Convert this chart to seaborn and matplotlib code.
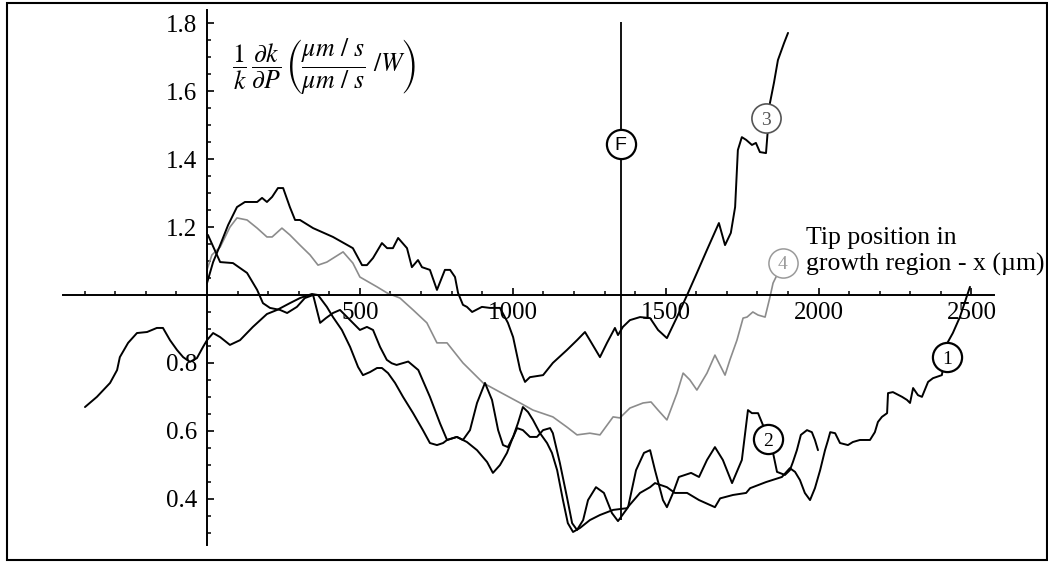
import matplotlib
matplotlib.use("Agg")
import matplotlib.pyplot as plt
import seaborn as sns
from matplotlib.patches import Rectangle
from matplotlib.ticker import FixedLocator

# ---- traces: relative sensitivity vs tip position (x in um) ----
c1_x = [-399, -360, -317, -294, -285, -258, -229, -196, -164, -144,
        -121, -98, -78, -56, -33, -13, 0, 20, 43, 75,
        108, 150, 196, 229, 271, 304, 343, 363, 392, 412,
        441, 468, 494, 510, 533, 556, 572, 592, 615, 641,
        674, 706, 729, 752, 772, 785, 817, 837, 860, 883,
        909, 932, 952, 968, 984, 1001, 1017, 1033, 1050, 1066,
        1089, 1112, 1128, 1145, 1164, 1180, 1197, 1220, 1252, 1285,
        1328, 1373, 1416, 1449, 1465, 1504, 1530, 1570, 1609, 1661,
        1678, 1720, 1763, 1776, 1828, 1880, 1906, 1923, 1939, 1955,
        1972, 1988, 2005, 2021, 2031, 2038, 2054, 2070, 2096, 2112,
        2135, 2168, 2184, 2194, 2207, 2224, 2227, 2243, 2273, 2289,
        2299, 2309, 2325, 2338, 2358, 2374, 2403, 2423, 2439, 2462,
        2495]
c1_y = [0.670, 0.700, 0.741, 0.779, 0.817, 0.859, 0.888, 0.891, 0.903, 0.903,
        0.867, 0.838, 0.817, 0.803, 0.814, 0.847, 0.867, 0.888, 0.876, 0.853,
        0.867, 0.906, 0.944, 0.956, 0.976, 0.991, 1.003, 1.000, 0.965, 0.935,
        0.897, 0.847, 0.788, 0.764, 0.773, 0.785, 0.785, 0.770, 0.741, 0.700,
        0.652, 0.602, 0.564, 0.558, 0.564, 0.573, 0.582, 0.573, 0.602, 0.682,
        0.741, 0.691, 0.602, 0.558, 0.552, 0.582, 0.623, 0.670, 0.655, 0.632,
        0.593, 0.564, 0.535, 0.484, 0.396, 0.328, 0.302, 0.314, 0.337, 0.352,
        0.367, 0.372, 0.417, 0.434, 0.446, 0.434, 0.417, 0.417, 0.396, 0.375,
        0.401, 0.411, 0.417, 0.431, 0.449, 0.464, 0.490, 0.479, 0.455, 0.417,
        0.396, 0.431, 0.484, 0.543, 0.573, 0.596, 0.593, 0.564, 0.558, 0.567,
        0.573, 0.573, 0.596, 0.626, 0.641, 0.652, 0.711, 0.714, 0.700, 0.691,
        0.682, 0.726, 0.705, 0.700, 0.744, 0.755, 0.764, 0.862, 0.888, 0.935,
        1.024]

c2_x = [3, 43, 85, 131, 164, 183, 206, 239, 262, 294,
        320, 347, 370, 389, 412, 435, 468, 500, 523, 543,
        566, 588, 604, 620, 658, 691, 729, 762, 785, 817,
        850, 883, 916, 935, 958, 981, 997, 1014, 1033, 1056,
        1079, 1099, 1122, 1131, 1154, 1177, 1194, 1210, 1230, 1246,
        1272, 1298, 1324, 1344, 1377, 1403, 1429, 1449, 1465, 1491,
        1504, 1524, 1543, 1583, 1609, 1635, 1661, 1687, 1717, 1749,
        1769, 1782, 1802, 1818, 1851, 1864, 1890, 1906, 1916, 1929,
        1942, 1962, 1978, 1988, 1998]
c2_y = [1.177, 1.097, 1.094, 1.065, 1.015, 0.976, 0.962, 0.956, 0.947, 0.965,
        0.991, 1.000, 0.918, 0.932, 0.947, 0.956, 0.926, 0.897, 0.906, 0.897,
        0.847, 0.809, 0.799, 0.794, 0.804, 0.779, 0.700, 0.622, 0.573, 0.582,
        0.567, 0.543, 0.508, 0.476, 0.499, 0.535, 0.573, 0.608, 0.602, 0.582,
        0.582, 0.602, 0.608, 0.593, 0.505, 0.405, 0.328, 0.308, 0.337, 0.396,
        0.434, 0.417, 0.358, 0.334, 0.375, 0.484, 0.535, 0.543, 0.484, 0.396,
        0.375, 0.417, 0.464, 0.476, 0.464, 0.514, 0.552, 0.514, 0.446, 0.514,
        0.661, 0.652, 0.652, 0.617, 0.535, 0.479, 0.470, 0.484, 0.508, 0.543,
        0.588, 0.602, 0.596, 0.573, 0.543]

c3_x = [0, 20, 43, 69, 98, 124, 164, 180, 196, 213,
        232, 249, 271, 288, 304, 347, 412, 477, 507, 523,
        543, 572, 589, 608, 625, 654, 670, 690, 703, 729,
        752, 778, 795, 811, 821, 837, 850, 867, 899, 925,
        958, 984, 1001, 1024, 1040, 1056, 1099, 1131, 1177, 1210,
        1236, 1252, 1285, 1308, 1334, 1344, 1360, 1383, 1416, 1449,
        1475, 1504, 1537, 1573, 1602, 1635, 1674, 1694, 1713, 1727,
        1736, 1749, 1763, 1782, 1795, 1808, 1828, 1841, 1854, 1867,
        1887, 1900]
c3_y = [1.035, 1.097, 1.147, 1.206, 1.259, 1.274, 1.274, 1.286, 1.274, 1.289,
        1.315, 1.315, 1.259, 1.221, 1.221, 1.197, 1.171, 1.138, 1.088, 1.088,
        1.109, 1.153, 1.138, 1.138, 1.168, 1.138, 1.082, 1.103, 1.082, 1.074,
        1.015, 1.074, 1.074, 1.053, 1.006, 0.971, 0.965, 0.950, 0.965, 0.962,
        0.962, 0.918, 0.876, 0.779, 0.744, 0.758, 0.764, 0.800, 0.838, 0.867,
        0.891, 0.867, 0.817, 0.859, 0.903, 0.882, 0.906, 0.926, 0.935, 0.932,
        0.897, 0.873, 0.935, 1.006, 1.065, 1.133, 1.212, 1.147, 1.183, 1.259,
        1.427, 1.465, 1.457, 1.442, 1.448, 1.421, 1.418, 1.566, 1.625, 1.692,
        1.742, 1.772]

c4_x = [0, 16, 43, 75, 98, 131, 164, 196, 213, 245,
        271, 304, 337, 363, 392, 445, 477, 500, 556, 589,
        631, 674, 719, 752, 785, 837, 903, 958, 1024, 1066,
        1131, 1177, 1210, 1252, 1285, 1328, 1350, 1383, 1426, 1452,
        1475, 1504, 1537, 1557, 1579, 1602, 1635, 1661, 1694, 1710,
        1733, 1753, 1766, 1785, 1802, 1825, 1841, 1851, 1864, 1883]
c4_y = [1.074, 1.118, 1.141, 1.200, 1.227, 1.221, 1.197, 1.171, 1.171, 1.197,
        1.177, 1.147, 1.118, 1.088, 1.097, 1.127, 1.094, 1.053, 1.024, 1.006,
        0.991, 0.956, 0.918, 0.859, 0.859, 0.800, 0.741, 0.714, 0.682, 0.661,
        0.641, 0.611, 0.588, 0.593, 0.588, 0.641, 0.638, 0.667, 0.682, 0.685,
        0.661, 0.632, 0.711, 0.770, 0.750, 0.720, 0.770, 0.823, 0.764, 0.809,
        0.867, 0.932, 0.935, 0.950, 0.941, 0.935, 0.994, 1.035, 1.059, 1.095]

# circled tags: text, x, y
tag_text = ["1", "2", "3", "4", "F"]
tag_x = [2419, 1834, 1828, 1883, 1353]
tag_y = [0.816, 0.575, 1.521, 1.095, 1.445]

# focus marker line
f_x = 1353
f_range = (0.337, 1.805)

x_major = [500, 1000, 1500, 2000, 2500]
x_minor = [v for v in range(-400, 2600, 100) if v % 500 != 0]
y_major = [0.4, 0.6, 0.8, 1.2, 1.4, 1.6, 1.8]
y_minor = [round(0.30 + 0.05 * i, 2) for i in range(31)]
y_minor = [v for v in y_minor if abs(v * 5 - round(v * 5)) > 1e-6]

for xs, ys in [(c1_x, c1_y), (c2_x, c2_y), (c3_x, c3_y), (c4_x, c4_y)]:
    assert len(xs) == len(ys)

sns.set_style("white")
plt.rcParams["font.family"] = ["Liberation Serif", "DejaVu Serif"]
plt.rcParams["mathtext.fontset"] = "stix"

W, H = 1048, 562
fig = plt.figure(figsize=(W / 100, H / 100), dpi=100)
ax = fig.add_axes([60 / W, 7 / H, 940 / W, 550 / H])
ax.set_xlim(-480.7, 2593.2)
ax.set_ylim(0.2342, 1.8542)
ax.patch.set_alpha(0)

# axes crossing at (0, 1.0)
for s in ["top", "right"]:
    ax.spines[s].set_visible(False)
ax.spines["left"].set_position(("data", 0))
ax.spines["bottom"].set_position(("data", 1.0))
ax.spines["left"].set_bounds(0.264, 1.839)
ax.spines["bottom"].set_bounds(-472, 2574)
for s in ["left", "bottom"]:
    ax.spines[s].set_linewidth(1.4)
    ax.spines[s].set_color("black")

ax.set_xticks(x_major)
ax.set_xticklabels([str(v) for v in x_major])
ax.xaxis.set_minor_locator(FixedLocator(x_minor))
ax.set_yticks(y_major)
ax.set_yticklabels([f"{v:.1f}" for v in y_major])
ax.yaxis.set_minor_locator(FixedLocator(y_minor))
ax.tick_params(axis="both", which="both", bottom=True, left=True,
               top=False, right=False)
ax.tick_params(axis="both", which="major", direction="in", length=5,
               width=1.2, color="black", labelsize=18, labelcolor="black")
ax.tick_params(axis="both", which="minor", direction="in", length=3,
               width=1.1, color="black")
ax.tick_params(axis="x", which="major", pad=5)
ax.tick_params(axis="y", which="major", pad=7)
ax.grid(False)

# curves
sns.lineplot(x=c4_x, y=c4_y, ax=ax, color="#8c8c8c", lw=1.2,
             sort=False, estimator=None, zorder=2)
for xs, ys in [(c1_x, c1_y), (c2_x, c2_y), (c3_x, c3_y)]:
    sns.lineplot(x=xs, y=ys, ax=ax, color="black", lw=1.4,
                 sort=False, estimator=None, zorder=3)

ax.vlines(f_x, f_range[0], f_range[1], color="black", lw=1.3, zorder=3)

# circled tags
tag_edge = ["black", "black", "#555555", "#9a9a9a", "black"]
tag_lw = [1.6, 1.6, 1.2, 1.1, 1.6]
for t, x, y, ec, lw in zip(tag_text, tag_x, tag_y, tag_edge, tag_lw):
    ax.plot([x], [y], marker="o", ms=21, mfc="white", mec=ec, mew=lw,
            ls="none", zorder=5)
    fam = ["Liberation Sans", "DejaVu Sans"] if t == "F" else None
    ax.text(x, y, t, ha="center", va="center_baseline", fontsize=14,
            family=fam, color=ec, zorder=6)

# axis titles
ax.text(383, 1.672,
        r"$\dfrac{1}{k}\,\dfrac{\partial k}{\partial P}\,"
        r"\left(\dfrac{\mu m\ /\ s}{\mu m\ /\ s}\ /W\right)$",
        fontsize=18.5, ha="center", va="center", color="black")
ax.text(1959, 1.128, "Tip position in\ngrowth region - x (\u00b5m)",
        fontsize=18.5, ha="left", va="center", linespacing=1.2,
        color="black")

# outer frame
fig.add_artist(Rectangle((7 / W, 2 / H), 1040 / W, 557 / H,
                         transform=fig.transFigure, fill=False,
                         lw=1.5, ec="black"))

fig.savefig("out.png", dpi=100, facecolor="white")
